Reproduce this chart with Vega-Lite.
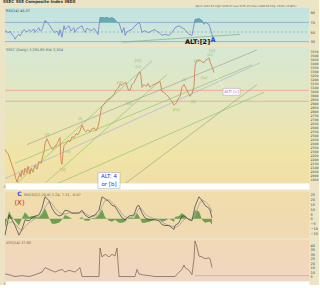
{
  "$schema": "https://vega.github.io/schema/vega-lite/v6.json",
  "padding": {"left": 3, "top": 0, "right": 0, "bottom": 0},
  "background": "#ece4c4",
  "title": {"text": "SSEC  SSE Composite Index  INDX", "fontSize": 4, "anchor": "start", "offset": 1, "color": "#333333", "fontWeight": "bold", "font": "DejaVu Sans"},
  "spacing": 1,
  "config": {
    "view": {"stroke": null},
    "axis": {"labelFont": "DejaVu Sans", "labelFontSize": 3.5, "labelColor": "#444444", "ticks": false, "domain": false, "grid": false, "title": null, "labelPadding": 1, "labelOverlap": false},
    "text": {"font": "DejaVu Sans"}
  },
  "datasets": {
    "price": [
      {"t":3,"p":2319},{"t":4,"p":2294},{"t":6,"p":2270},{"t":8,"p":2196},{"t":10,"p":2122},{"t":12,"p":2048},{"t":14,"p":1949},{"t":15,"p":1912},{"t":16,"p":1949},{"t":18,"p":2023},{"t":19,"p":1974},{"t":20,"p":2060},{"t":22,"p":1999},{"t":23,"p":2085},{"t":25,"p":2023},{"t":26,"p":2109},{"t":28,"p":2011},{"t":29,"p":2085},{"t":31,"p":2035},{"t":33,"p":2122},{"t":35,"p":2072},{"t":37,"p":2171},{"t":39,"p":2146},{"t":41,"p":2245},{"t":42,"p":2294},{"t":43,"p":2393},{"t":45,"p":2454},{"t":47,"p":2393},{"t":49,"p":2343},{"t":51,"p":2319},{"t":53,"p":2356},{"t":55,"p":2393},{"t":57,"p":2442},{"t":58,"p":2467},{"t":59,"p":2171},{"t":60,"p":2134},{"t":61,"p":2270},{"t":62,"p":2368},{"t":64,"p":2393},{"t":66,"p":2430},{"t":68,"p":2417},{"t":70,"p":2479},{"t":72,"p":2467},{"t":74,"p":2516},{"t":76,"p":2504},{"t":78,"p":2553},{"t":80,"p":2627},{"t":82,"p":2565},{"t":84,"p":2541},{"t":86,"p":2565},{"t":88,"p":2541},{"t":90,"p":2578},{"t":92,"p":2590},{"t":94,"p":2553},{"t":96,"p":2602},{"t":97,"p":2664},{"t":98,"p":2725},{"t":99,"p":2812},{"t":100,"p":2861},{"t":102,"p":2885},{"t":104,"p":2922},{"t":106,"p":2947},{"t":108,"p":2959},{"t":110,"p":2984},{"t":112,"p":3009},{"t":114,"p":3058},{"t":116,"p":3083},{"t":118,"p":3132},{"t":120,"p":3120},{"t":122,"p":3144},{"t":124,"p":3157},{"t":126,"p":3070},{"t":128,"p":3058},{"t":130,"p":3132},{"t":132,"p":3157},{"t":134,"p":3206},{"t":136,"p":3255},{"t":138,"p":3292},{"t":139,"p":3230},{"t":140,"p":3095},{"t":142,"p":3132},{"t":144,"p":3107},{"t":146,"p":3144},{"t":148,"p":3095},{"t":150,"p":3120},{"t":152,"p":3132},{"t":154,"p":3144},{"t":156,"p":3157},{"t":158,"p":3169},{"t":160,"p":3046},{"t":162,"p":3033},{"t":164,"p":3009},{"t":166,"p":2984},{"t":168,"p":2947},{"t":170,"p":2922},{"t":172,"p":2873},{"t":174,"p":2898},{"t":176,"p":2947},{"t":178,"p":2984},{"t":180,"p":3095},{"t":182,"p":3132},{"t":184,"p":3083},{"t":186,"p":3033},{"t":188,"p":2984},{"t":190,"p":3021},{"t":192,"p":3107},{"t":193,"p":3354},{"t":194,"p":3415},{"t":196,"p":3428},{"t":198,"p":3440},{"t":200,"p":3415},{"t":202,"p":3403},{"t":204,"p":3440},{"t":206,"p":3452},{"t":207,"p":3464},{"t":208,"p":3415},{"t":210,"p":3354},{"t":212,"p":3280}
    ],
    "trend": [
      {"id":"A","kind":"green","t":12,"p":1863},{"id":"A","kind":"green","t":150,"p":3428},
      {"id":"B","kind":"green","t":40,"p":1863},{"id":"B","kind":"green","t":165,"p":3255},
      {"id":"C","kind":"green","t":13,"p":2146},{"id":"C","kind":"green","t":250,"p":3378},
      {"id":"D","kind":"gray","t":25,"p":2380},{"id":"D","kind":"gray","t":255,"p":3563},
      {"id":"E","kind":"lavender","t":0,"p":1937},{"id":"E","kind":"lavender","t":258,"p":3403},
      {"id":"F","kind":"green","t":50,"p":1863},{"id":"F","kind":"green","t":262,"p":3033},
      {"id":"G","kind":"gray","t":120,"p":1863},{"id":"G","kind":"gray","t":255,"p":3132},
      {"id":"W","kind":"white","t":212,"p":3280},{"id":"W","kind":"white","t":224,"p":3046}
    ],
    "waves": [
      {"t":45,"p":2504,"kind":"green","txt":"[i]"},
      {"t":61,"p":2060,"kind":"green","txt":"[ii]"},
      {"t":136,"p":3428,"kind":"green","txt":"[iii]"},
      {"t":174,"p":2812,"kind":"green","txt":"[iv]"},
      {"t":210,"p":3551,"kind":"green","txt":"[v]"},
      {"t":78,"p":2701,"kind":"pink","txt":"(i)"},
      {"t":66,"p":2290,"kind":"pink","txt":"(ii)"},
      {"t":118,"p":3144,"kind":"pink","txt":"(iii)"},
      {"t":127,"p":2885,"kind":"pink","txt":"(iv)"},
      {"t":136,"p":3354,"kind":"pink","txt":"(v)"},
      {"t":182,"p":3193,"kind":"pink","txt":"(i)"},
      {"t":191,"p":2910,"kind":"pink","txt":"(ii)"},
      {"t":195,"p":3428,"kind":"pink","txt":"(iii)"},
      {"t":202,"p":3218,"kind":"pink","txt":"(iv)"},
      {"t":208,"p":3501,"kind":"pink","txt":"(v)"}
    ],
    "rsi": [
      {"t":3,"r":53},{"t":5,"r":50},{"t":7,"r":49},{"t":8,"r":52},{"t":10,"r":45},{"t":12,"r":40},{"t":13,"r":35},{"t":15,"r":41},{"t":17,"r":45},{"t":18,"r":42},{"t":20,"r":49},{"t":22,"r":55},{"t":23,"r":53},{"t":25,"r":50},{"t":27,"r":55},{"t":29,"r":51},{"t":30,"r":53},{"t":32,"r":56},{"t":33,"r":49},{"t":35,"r":55},{"t":37,"r":59},{"t":38,"r":52},{"t":40,"r":55},{"t":43,"r":74},{"t":45,"r":70},{"t":47,"r":66},{"t":50,"r":55},{"t":53,"r":49},{"t":55,"r":52},{"t":57,"r":43},{"t":58,"r":55},{"t":60,"r":39},{"t":62,"r":63},{"t":63,"r":55},{"t":65,"r":60},{"t":67,"r":63},{"t":69,"r":52},{"t":70,"r":55},{"t":72,"r":59},{"t":73,"r":49},{"t":75,"r":57},{"t":77,"r":59},{"t":80,"r":63},{"t":82,"r":52},{"t":83,"r":49},{"t":85,"r":58},{"t":87,"r":55},{"t":90,"r":53},{"t":92,"r":58},{"t":93,"r":55},{"t":96,"r":45},{"t":98,"r":80},{"t":100,"r":80},{"t":103,"r":79},{"t":105,"r":81},{"t":107,"r":78},{"t":110,"r":80},{"t":113,"r":76},{"t":115,"r":70},{"t":117,"r":69},{"t":120,"r":49},{"t":122,"r":59},{"t":123,"r":43},{"t":125,"r":50},{"t":127,"r":53},{"t":130,"r":55},{"t":133,"r":63},{"t":137,"r":70},{"t":138,"r":66},{"t":140,"r":49},{"t":143,"r":53},{"t":145,"r":50},{"t":147,"r":49},{"t":150,"r":53},{"t":153,"r":55},{"t":155,"r":51},{"t":157,"r":49},{"t":160,"r":43},{"t":163,"r":45},{"t":167,"r":43},{"t":170,"r":49},{"t":173,"r":59},{"t":177,"r":63},{"t":180,"r":59},{"t":183,"r":55},{"t":187,"r":45},{"t":190,"r":43},{"t":192,"r":65},{"t":193,"r":76},{"t":197,"r":78},{"t":200,"r":74},{"t":202,"r":66},{"t":203,"r":70},{"t":207,"r":66},{"t":208,"r":59},{"t":210,"r":45},{"t":211,"r":39}
    ],
    "rsiob": [
      {"seg":0,"t":42.3,"r":70},{"seg":0,"t":43,"r":74},{"seg":0,"t":45,"r":70},
      {"seg":1,"t":97.3,"r":70},{"seg":1,"t":98,"r":80},{"seg":1,"t":100,"r":80},{"seg":1,"t":103,"r":79},{"seg":1,"t":105,"r":81},{"seg":1,"t":107,"r":78},{"seg":1,"t":110,"r":80},{"seg":1,"t":113,"r":76},{"seg":1,"t":115,"r":70},
      {"seg":2,"t":192.5,"r":70},{"seg":2,"t":193,"r":76},{"seg":2,"t":197,"r":78},{"seg":2,"t":200,"r":74},{"seg":2,"t":201.5,"r":70}
    ],
    "macd": [
      {"t":3,"m":-17},{"t":7,"m":4},{"t":10,"m":-1},{"t":13,"m":-7},{"t":17,"m":-17},{"t":20,"m":-11},{"t":23,"m":-1},{"t":27,"m":-2},{"t":30,"m":1},{"t":33,"m":3},{"t":37,"m":4},{"t":40,"m":11},{"t":43,"m":23},{"t":47,"m":19},{"t":50,"m":11},{"t":53,"m":6},{"t":57,"m":3},{"t":60,"m":4},{"t":63,"m":9},{"t":67,"m":8},{"t":70,"m":6},{"t":77,"m":6},{"t":80,"m":9},{"t":83,"m":4},{"t":87,"m":1},{"t":90,"m":3},{"t":93,"m":4},{"t":97,"m":9},{"t":100,"m":23},{"t":103,"m":21},{"t":107,"m":18},{"t":110,"m":14},{"t":113,"m":13},{"t":117,"m":6},{"t":120,"m":1},{"t":123,"m":-1},{"t":127,"m":3},{"t":132,"m":4},{"t":135,"m":13},{"t":137,"m":14},{"t":140,"m":6},{"t":143,"m":1},{"t":147,"m":-1},{"t":153,"m":-1},{"t":157,"m":-2},{"t":160,"m":-6},{"t":163,"m":-7},{"t":167,"m":-7},{"t":172,"m":-11},{"t":173,"m":-7},{"t":177,"m":-4},{"t":180,"m":3},{"t":183,"m":3},{"t":187,"m":-1},{"t":190,"m":-2},{"t":193,"m":13},{"t":197,"m":23},{"t":200,"m":19},{"t":203,"m":14},{"t":207,"m":11},{"t":208,"m":9},{"t":210,"m":1}
    ],
    "signal": [
      {"t":3,"m":-8},{"t":7,"m":-4},{"t":10,"m":-3},{"t":13,"m":-5},{"t":17,"m":-10},{"t":20,"m":-12},{"t":23,"m":-8},{"t":27,"m":-4},{"t":30,"m":-2},{"t":33,"m":0},{"t":37,"m":2},{"t":40,"m":5},{"t":43,"m":12},{"t":47,"m":18},{"t":50,"m":16},{"t":53,"m":11},{"t":57,"m":7},{"t":60,"m":5},{"t":63,"m":5},{"t":67,"m":6},{"t":70,"m":6},{"t":77,"m":6},{"t":80,"m":7},{"t":83,"m":6},{"t":87,"m":3},{"t":90,"m":2},{"t":93,"m":3},{"t":97,"m":5},{"t":100,"m":13},{"t":103,"m":19},{"t":107,"m":20},{"t":110,"m":17},{"t":113,"m":14},{"t":117,"m":10},{"t":120,"m":5},{"t":123,"m":2},{"t":127,"m":1},{"t":132,"m":3},{"t":135,"m":7},{"t":137,"m":11},{"t":140,"m":10},{"t":143,"m":5},{"t":147,"m":2},{"t":153,"m":0},{"t":157,"m":-1},{"t":160,"m":-3},{"t":163,"m":-5},{"t":167,"m":-7},{"t":172,"m":-8},{"t":173,"m":-9},{"t":177,"m":-7},{"t":180,"m":-3},{"t":183,"m":0},{"t":187,"m":0},{"t":190,"m":-1},{"t":193,"m":4},{"t":197,"m":15},{"t":200,"m":20},{"t":203,"m":18},{"t":207,"m":14},{"t":208,"m":12},{"t":210,"m":7}
    ],
    "hist": [
      {"t":3,"m":-9},{"t":7,"m":8},{"t":10,"m":2},{"t":13,"m":-2},{"t":17,"m":-7},{"t":20,"m":1},{"t":23,"m":7},{"t":27,"m":2},{"t":30,"m":3},{"t":33,"m":3},{"t":37,"m":2},{"t":40,"m":6},{"t":43,"m":11},{"t":47,"m":1},{"t":50,"m":-5},{"t":53,"m":-5},{"t":57,"m":-4},{"t":60,"m":-1},{"t":63,"m":4},{"t":67,"m":2},{"t":70,"m":0},{"t":77,"m":0},{"t":80,"m":2},{"t":83,"m":-2},{"t":87,"m":-2},{"t":90,"m":1},{"t":93,"m":1},{"t":97,"m":4},{"t":100,"m":10},{"t":103,"m":2},{"t":107,"m":-2},{"t":110,"m":-3},{"t":113,"m":-1},{"t":117,"m":-4},{"t":120,"m":-4},{"t":123,"m":-3},{"t":127,"m":2},{"t":132,"m":1},{"t":135,"m":6},{"t":137,"m":3},{"t":140,"m":-4},{"t":143,"m":-4},{"t":147,"m":-3},{"t":153,"m":-1},{"t":157,"m":-1},{"t":160,"m":-3},{"t":163,"m":-2},{"t":167,"m":0},{"t":172,"m":-3},{"t":173,"m":2},{"t":177,"m":3},{"t":180,"m":6},{"t":183,"m":3},{"t":187,"m":-1},{"t":190,"m":-1},{"t":193,"m":9},{"t":197,"m":8},{"t":200,"m":-1},{"t":203,"m":-4},{"t":207,"m":-3},{"t":208,"m":-3},{"t":210,"m":-6}
    ],
    "vol": [
      {"t":3,"v":8},{"t":7,"v":7},{"t":13,"v":5},{"t":20,"v":6},{"t":27,"v":5},{"t":33,"v":7},{"t":40,"v":10},{"t":43,"v":15},{"t":47,"v":13},{"t":53,"v":10},{"t":57,"v":12},{"t":60,"v":13},{"t":63,"v":10},{"t":67,"v":12},{"t":73,"v":10},{"t":78,"v":15},{"t":80,"v":5},{"t":83,"v":5},{"t":97,"v":5},{"t":98,"v":37},{"t":100,"v":27},{"t":103,"v":30},{"t":107,"v":27},{"t":110,"v":30},{"t":113,"v":28},{"t":115,"v":37},{"t":117,"v":5},{"t":120,"v":5},{"t":133,"v":5},{"t":135,"v":13},{"t":137,"v":8},{"t":140,"v":7},{"t":147,"v":6},{"t":153,"v":5},{"t":167,"v":5},{"t":173,"v":5},{"t":177,"v":10},{"t":180,"v":13},{"t":182,"v":18},{"t":183,"v":15},{"t":187,"v":12},{"t":190,"v":7},{"t":192,"v":25},{"t":193,"v":45},{"t":195,"v":38},{"t":197,"v":28},{"t":200,"v":27},{"t":203,"v":25},{"t":207,"v":26},{"t":208,"v":25},{"t":210,"v":15}
    ]
  },
  "vconcat": [
    {
      "width": 304, "height": 36,
      "view": {"fill": {"gradient": "linear", "x1": 0, "y1": 0, "x2": 0, "y2": 1, "stops": [{"offset": 0, "color": "#c1e3e0"}, {"offset": 1, "color": "#d3e8d8"}]}, "stroke": null},
      "encoding": {
        "x": {"field": "t", "type": "quantitative", "scale": {"domain": [3, 307], "nice": false, "zero": false}, "axis": null},
        "y": {"field": "r", "type": "quantitative", "scale": {"domain": [25, 100], "nice": false}, "axis": {"orient": "right", "values": [30, 50, 70, 90]}}
      },
      "layer": [
        {"data": {"values": [{"t": 3, "t2": 307, "r": 70}, {"t": 3, "t2": 307, "r": 30}]}, "mark": {"type": "rule", "color": "#8fa6cc", "strokeWidth": 0.8}, "encoding": {"x2": {"field": "t2"}}},
        {"data": {"values": [{"t": 3, "t2": 307, "r": 50}]}, "mark": {"type": "rule", "color": "#8a9cb4", "strokeWidth": 0.6, "strokeDash": [2, 2]}, "encoding": {"x2": {"field": "t2"}}},
        {"data": {"name": "rsiob"}, "mark": {"type": "area", "color": "#4fa8a0", "opacity": 0.85}, "encoding": {"y2": {"datum": 70}, "detail": {"field": "seg"}}},
        {"data": {"values": [{"t": 120, "r": 29}, {"t": 238, "r": 45}]}, "mark": {"type": "line", "color": "#7fb08a", "strokeWidth": 0.7}, "encoding": {}},
        {"data": {"name": "rsi"}, "mark": {"type": "line", "color": "#6f7fd0", "strokeWidth": 0.8}, "encoding": {}},
        {"data": {"values": [{"t": 4, "r": 97, "txt": "RSI(14) 45.37"}]}, "mark": {"type": "text", "fontSize": 3.5, "align": "left", "baseline": "top", "color": "#334455"}, "encoding": {"text": {"field": "txt"}}},
        {"data": {"values": [{"t": 244, "r": 104, "txt": "Open 3313.97  High 3336.57  Low 3276.25  Close 3280.85  Chg -29.04 (-0.88%)"}]}, "mark": {"type": "text", "fontSize": 2.6, "align": "center", "baseline": "middle", "color": "#555555"}, "encoding": {"text": {"field": "txt"}}},
        {"data": {"values": [{"t": 195.5, "r": 29, "txt": "ALT:[2]"}]}, "mark": {"type": "text", "fontSize": 6.5, "fontWeight": "bold", "align": "center", "baseline": "middle", "color": "#111111"}, "encoding": {"text": {"field": "txt"}}},
        {"data": {"values": [{"t": 211, "r": 34, "txt": "A"}]}, "mark": {"type": "text", "fontSize": 6.5, "fontWeight": "bold", "align": "center", "baseline": "middle", "color": "#2244ee"}, "encoding": {"text": {"field": "txt"}}}
      ]
    },
    {
      "width": 304, "height": 136,
      "view": {"fill": {"gradient": "linear", "x1": 0, "y1": 0, "x2": 0, "y2": 1, "stops": [{"offset": 0, "color": "#d6e8d4"}, {"offset": 0.45, "color": "#e6e6bc"}, {"offset": 0.8, "color": "#f0e4a6"}, {"offset": 1, "color": "#f0dfa8"}]}, "stroke": null},
      "encoding": {
        "x": {"field": "t", "type": "quantitative", "scale": {"domain": [3, 307], "nice": false, "zero": false}, "axis": {"orient": "bottom", "values": [5,24,43,62,81,138,157,176,195,214,233,252,271,290], "labelExpr": "['Mar','Apr','May','Jun','Jul','Aug','Sep','Oct','Nov','Dec','Jan','Feb','Mar','Apr','May','Jun'][round((datum.value-5)/19)]", "domain": true, "domainColor": "#ffffff", "domainWidth": 6, "offset": 3, "labelPadding": -2}},
        "y": {"field": "p", "type": "quantitative", "scale": {"domain": [1900, 3600], "nice": false, "zero": false}, "axis": {"orient": "right", "values": [1950,2000,2050,2100,2150,2200,2250,2300,2350,2400,2450,2500,2550,2600,2650,2700,2750,2800,2850,2900,2950,3000,3050,3100,3150,3200,3250,3300,3350,3400,3450,3500,3550], "format": "d", "labelFontSize": 3.2}}
      },
      "layer": [
        {"data": {"values": [{"t": 3, "t2": 307, "p": 3058}, {"t": 3, "t2": 307, "p": 2922}]}, "mark": {"type": "rule", "color": "#f2a08c", "strokeWidth": 0.8}, "encoding": {"x2": {"field": "t2"}}},
        {"data": {"name": "trend"}, "mark": {"type": "line", "strokeWidth": 0.6, "clip": true}, "encoding": {"detail": {"field": "id"}, "color": {"field": "kind", "type": "nominal", "scale": {"domain": ["green", "gray", "lavender", "white"], "range": ["#7fbf6a", "#9a9a8a", "#a6a6e0", "#f4f4f4"]}, "legend": null}}},
        {"data": {"name": "price"}, "mark": {"type": "line", "color": "#cf8450", "strokeWidth": 0.9}, "encoding": {}},
        {"data": {"name": "waves"}, "mark": {"type": "text", "fontSize": 4, "align": "center", "baseline": "middle"}, "encoding": {"text": {"field": "txt"}, "color": {"field": "kind", "type": "nominal", "scale": {"domain": ["green", "pink"], "range": ["#2f8a2f", "#e055c8"]}, "legend": null}}},
        {"data": {"values": [{"t": 221, "t2": 238, "p": 3083, "p2": 2996}, {"t": 96, "t2": 118, "p": 2030, "p2": 1830}]}, "mark": {"type": "rect", "fill": "#ffffff", "stroke": "#9aa0b0", "strokeWidth": 0.5}, "encoding": {"x2": {"field": "t2"}, "y2": {"field": "p2"}}},
        {"data": {"values": [{"t": 229.5, "p": 3040, "txt": "ALT: [c]"}]}, "mark": {"type": "text", "fontSize": 4, "align": "center", "baseline": "middle", "color": "#d050c0"}, "encoding": {"text": {"field": "txt"}}},
        {"data": {"values": [{"t": 107, "p": 1985, "txt": "ALT: 4"}, {"t": 107, "p": 1890, "txt": "or [b]"}]}, "mark": {"type": "text", "fontSize": 5.5, "align": "center", "baseline": "middle", "color": "#2233ee"}, "encoding": {"text": {"field": "txt"}}},
        {"data": {"values": [{"t": 4, "p": 3585, "txt": "SSEC (Daily) 3,280.85  Mid 3,354"}]}, "mark": {"type": "text", "fontSize": 3.5, "align": "left", "baseline": "top", "color": "#666666"}, "encoding": {"text": {"field": "txt"}}}
      ]
    },
    {
      "width": 304, "height": 46,
      "view": {"fill": {"gradient": "linear", "x1": 0, "y1": 0, "x2": 0, "y2": 1, "stops": [{"offset": 0, "color": "#f0ddaa"}, {"offset": 1, "color": "#f0d9b4"}]}, "stroke": null},
      "encoding": {
        "x": {"field": "t", "type": "quantitative", "scale": {"domain": [3, 307], "nice": false, "zero": false}, "axis": null},
        "y": {"field": "m", "type": "quantitative", "scale": {"domain": [-20, 28], "nice": false}, "axis": {"orient": "right", "values": [-15,-10,-5,0,5,10,15,20,25]}}
      },
      "layer": [
        {"data": {"name": "hist"}, "mark": {"type": "area", "color": "#5f9a45", "opacity": 0.9}, "encoding": {"y2": {"datum": 0}}},
        {"data": {"name": "signal"}, "mark": {"type": "line", "color": "#b4aca4", "strokeWidth": 1.0}, "encoding": {}},
        {"data": {"name": "macd"}, "mark": {"type": "line", "color": "#3c3c3c", "strokeWidth": 0.7}, "encoding": {}},
        {"data": {"values": [{"t": 22, "m": 27, "txt": "MACD(12,26,9) 1.24, 7.31, -6.07"}]}, "mark": {"type": "text", "fontSize": 3.5, "align": "left", "baseline": "top", "color": "#666666"}, "encoding": {"text": {"field": "txt"}}},
        {"data": {"values": [{"t": 17.5, "m": 26, "txt": "C"}]}, "mark": {"type": "text", "fontSize": 6, "fontWeight": "bold", "align": "center", "baseline": "middle", "color": "#2244ee"}, "encoding": {"text": {"field": "txt"}}},
        {"data": {"values": [{"t": 17.5, "m": 16.5, "txt": "(X)"}]}, "mark": {"type": "text", "fontSize": 7, "align": "center", "baseline": "middle", "color": "#e01818"}, "encoding": {"text": {"field": "txt"}}}
      ]
    },
    {
      "width": 304, "height": 41,
      "view": {"fill": {"gradient": "linear", "x1": 0, "y1": 0, "x2": 0, "y2": 1, "stops": [{"offset": 0, "color": "#f0d9b6"}, {"offset": 1, "color": "#f2d6c2"}]}, "stroke": null},
      "encoding": {
        "x": {"field": "t", "type": "quantitative", "scale": {"domain": [3, 307], "nice": false, "zero": false}, "axis": {"orient": "bottom", "values": [5,24,43,62,81,100,119,138,157,176,195,214,233,252,271,290], "labelExpr": "['Mar','Apr','May','Jun','Jul','Aug','Sep','Oct','Nov','Dec','Jan','Feb','Mar','Apr','May','Jun'][round((datum.value-5)/19)]", "domain": true, "domainColor": "#ffffff", "domainWidth": 5, "offset": 2.5, "labelPadding": -2}},
        "y": {"field": "v", "type": "quantitative", "scale": {"domain": [0, 46], "nice": false}, "axis": {"orient": "right", "values": [5,10,15,20,25,30,35,40]}}
      },
      "layer": [
        {"data": {"values": [{"t": 193, "t2": 307, "v": 6}]}, "mark": {"type": "rule", "color": "#b8a8e0", "strokeWidth": 0.8}, "encoding": {"x2": {"field": "t2"}}},
        {"data": {"name": "vol"}, "mark": {"type": "line", "color": "#6e5e52", "strokeWidth": 0.7}, "encoding": {}},
        {"data": {"values": [{"t": 4, "v": 45, "txt": "ATR(14) 37.80"}]}, "mark": {"type": "text", "fontSize": 3.5, "align": "left", "baseline": "top", "color": "#666666"}, "encoding": {"text": {"field": "txt"}}}
      ]
    }
  ]
}
